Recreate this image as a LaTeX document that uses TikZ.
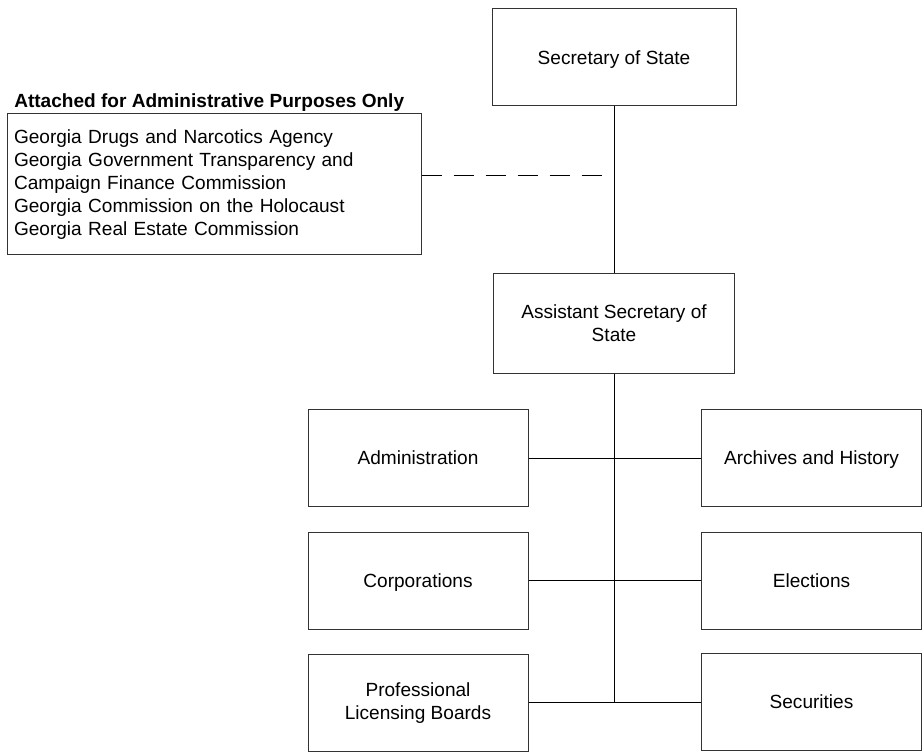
\documentclass[tikz,border=0pt]{standalone}
\usepackage{fontspec}
\setmainfont{Liberation Sans}
\newcommand{\orgfont}{\fontsize{14.3pt}{17.3pt}\selectfont}
\tikzset{
  orgbox/.style={draw=black!80, line width=0.75pt, inner sep=0pt, align=center, font=\orgfont},
  oneline/.style={text height=10.3pt, text depth=0pt},
  topbox/.style={orgbox, minimum width=183pt, minimum height=72.75pt},
  deptbox/.style={orgbox, minimum width=165pt, minimum height=72.75pt},
  link/.style={line width=0.75pt}
}
\begin{document}
\begin{tikzpicture}[x=0.75pt, y=-0.75pt]
    \useasboundingbox (0,0) rectangle (923,755);
    % top of the chart
    \node[topbox, oneline] (sos) at (614,57.5) {Secretary of State};
    \node[topbox, minimum width=180.75pt, minimum height=74.25pt] (asst) at (614,323.5) {Assistant Secretary of\\State};
    % attached agencies
    \node[anchor=base west, inner sep=0pt, font=\orgfont\bfseries] (title) at (14,107.7) {Attached for Administrative Purposes Only};
    \node[orgbox, align=left, text width=300pt, inner xsep=5.25pt, minimum height=105.75pt] (attached) at (214,184.5)
        {Georgia Drugs and Narcotics Agency\\Georgia Government Transparency and\\Campaign Finance Commission\\Georgia Commission on the Holocaust\\Georgia Real Estate Commission};
    % divisions
    \node[deptbox, oneline] (admin) at (418,458) {Administration};
    \node[deptbox, oneline] (archives) at (811.5,458) {Archives and History};
    \node[deptbox, oneline] (corp) at (418,580.5) {Corporations};
    \node[deptbox, oneline] (elect) at (811.5,580.5) {Elections};
    \node[deptbox] (plb) at (418,703) {Professional\\Licensing Boards};
    \node[deptbox, oneline] (secur) at (811.5,702) {Securities};
    % connectors
    \coordinate (junc) at (614,176);
    \coordinate (trunkend) at (614,702);
    \draw[link] (sos.south) -- (asst.north);
    \draw[link, dash pattern=on 15pt off 9pt] (attached.east |- junc) -- ([xshift=-3pt]junc);
    \draw[link] (asst.south) -- (trunkend);
    \draw[link] (admin.east) -- (archives.west);
    \draw[link] (corp.east) -- (elect.west);
    \draw[link] (plb.east |- trunkend) -- (secur.west |- trunkend);
\end{tikzpicture}
\end{document}
